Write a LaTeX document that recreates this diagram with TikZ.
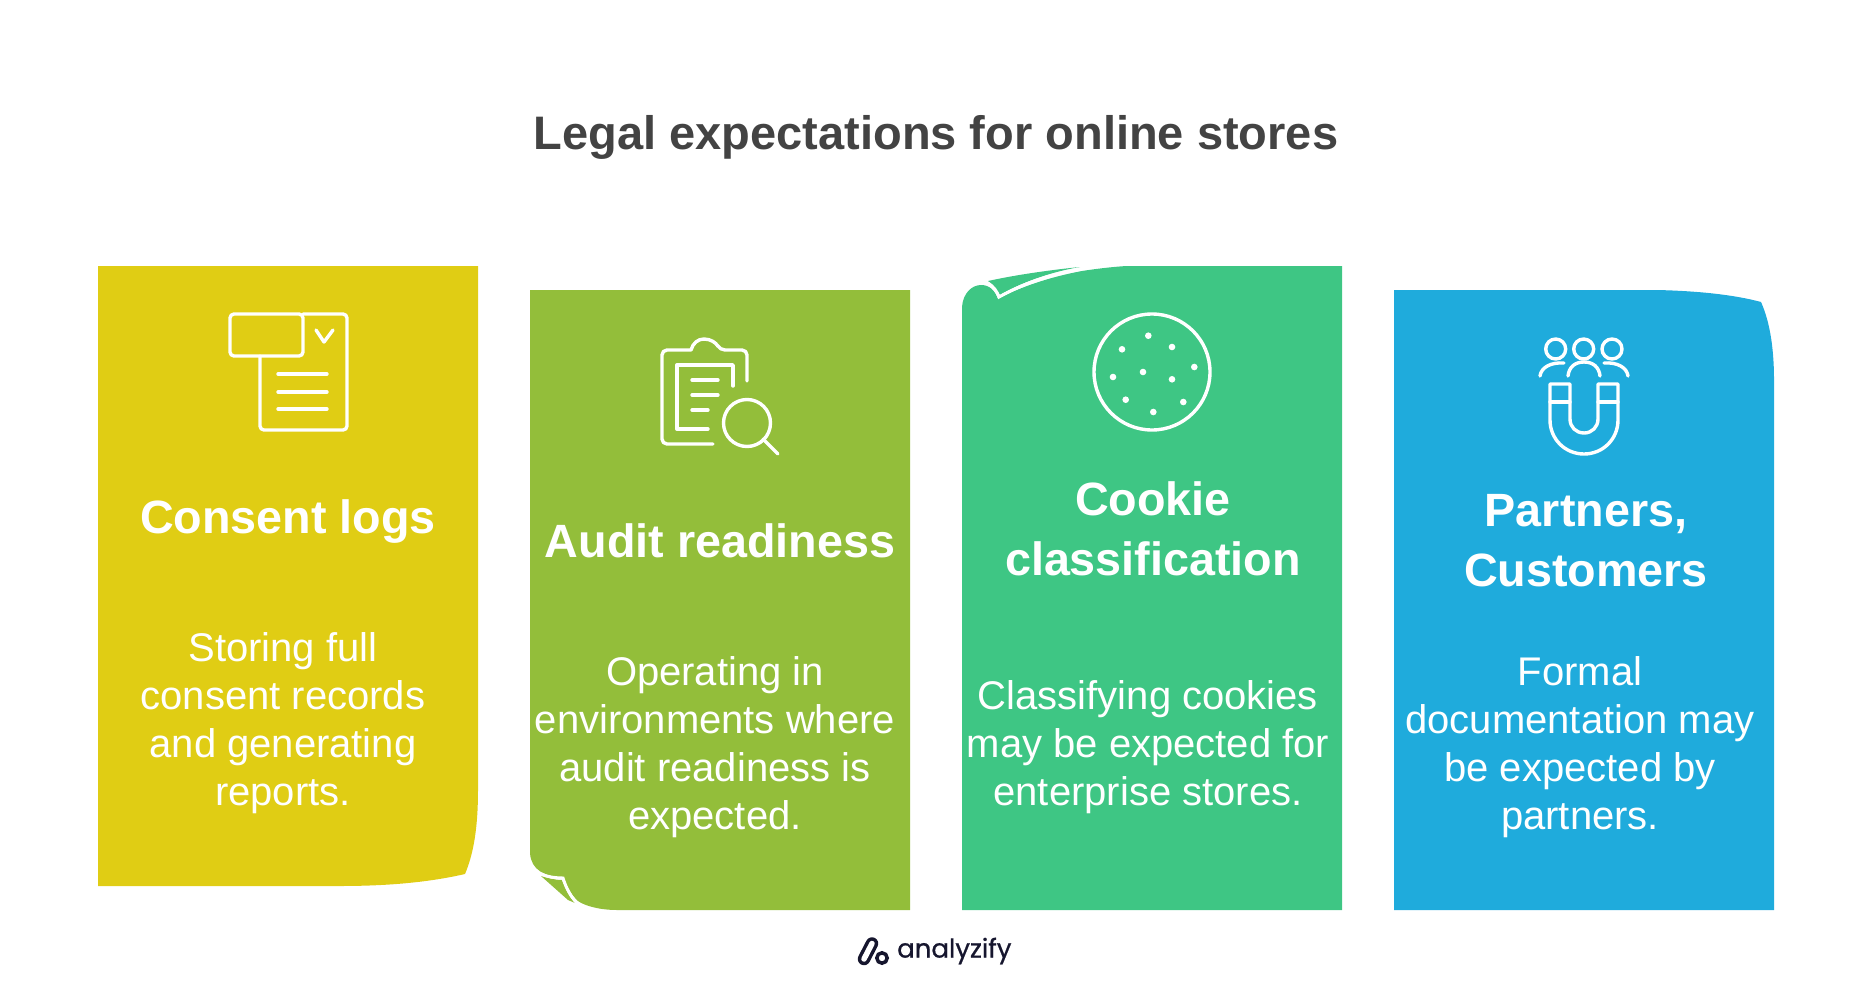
\documentclass[tikz,border=0pt]{standalone}
\usepackage{fontspec}
\usepackage{tikz}
\usetikzlibrary{positioning}
\setmainfont{Liberation Sans}
\newfontfamily\logofont[FakeBold=0.8]{Poppins}
\definecolor{cardyellow}{HTML}{E0CD14}
\definecolor{cardgreen}{HTML}{93BE3A}
\definecolor{cardteal}{HTML}{3EC684}
\definecolor{cardblue}{HTML}{1FABDC}
\definecolor{titlegrey}{HTML}{434343}
\definecolor{logoink}{HTML}{16162E}
\tikzset{
	cardhead/.style={text=white,align=center,inner sep=0pt,font=\fontsize{46.7}{60}\selectfont\bfseries},
	cardbody/.style={text=white,align=center,inner sep=0pt,font=\fontsize{40}{48}\selectfont},
	icon/.style={draw=white,line width=3.4pt,line cap=round,line join=round}
}

\begin{document}
\begin{tikzpicture}[x=1pt,y=-1pt]
	\useasboundingbox (0,0) rectangle (1872,996);
	\node [text=titlegrey,inner sep=0pt,font=\fontsize{47}{56}\selectfont\bfseries] at (936,137) (TITLE) {Legal expectations for online stores};
	% cards
	\fill [cardyellow] (98,266) -- (478,266) -- (478,790) .. controls (478,830) and (473,855) .. (465,874) .. controls (430,882) and (390,886) .. (340,886) -- (98,886) -- cycle;
	\fill [cardgreen] (530,290) -- (910,290) -- (910,910) -- (617,910) .. controls (600,910) and (585,906) .. (578,901) .. controls (571,895) and (567,886) .. (563.5,877) .. controls (545,877) and (531,870) .. (530,853) -- cycle;
	\fill [cardgreen] (541,876) .. controls (548,878) and (555,880) .. (562,880) .. controls (565,888) and (569,897) .. (575,903) -- (568,900) -- cycle;
	\draw [white,line width=3pt] (541,874) .. controls (548,877) and (555,878) .. (563,878) .. controls (566,888) and (571,897) .. (577,903);
	\fill [cardteal] (962,910) -- (962,307) .. controls (963,293) and (972,285) .. (981,285) .. controls (990,285) and (995,291) .. (998,299) .. controls (1020,287) and (1050,277) .. (1082,271) .. controls (1098,268.5) and (1112,267) .. (1126,266) -- (1342,266) -- (1342,910) -- cycle;
	\fill [cardteal] (988,281) .. controls (1015,275) and (1050,270) .. (1080,267) .. controls (1050,272) and (1020,283) .. (1000,295) .. controls (997,290) and (993,285) .. (988,281) -- cycle;
	\draw [white,line width=3pt] (988,283) .. controls (993,286) and (997,291) .. (999,297) .. controls (1020,285) and (1050,274) .. (1082,269);
	\fill [cardblue] (1394,290) -- (1657,290) .. controls (1700,291) and (1735,295) .. (1761,302) .. controls (1769,320) and (1774,345) .. (1774,380) -- (1774,910) -- (1394,910) -- cycle;
	% consent logs
	\draw [icon,rounded corners=4pt] (303,314) -- (347,314) -- (347,430) -- (260,430) -- (260,356);
	\draw [icon,rounded corners=4pt] (230,314) rectangle (303,356);
	\draw [icon] (316,330) -- (324,342) -- (333,330);
	\foreach \y in {374,392,409}
		\draw [icon] (278,\y) -- (327,\y);
	\node [cardhead] at (288,522) (H1) {Consent logs};
	\node [cardbody] at (283,723) (B1) {Storing full\\consent records\\and generating\\reports.};
	% audit readiness
	\draw [icon] (747,381) [rounded corners=5pt] -- (747,350) -- (720,350) [sharp corners] .. controls (716,343) and (711,339) .. (704,339) .. controls (698,339) and (693,343) .. (691,350) [rounded corners=5pt] -- (662,350) -- (662,444) -- (713,444);
	\draw [icon] (733,386) -- (733,365) -- (677,365) -- (677,429) -- (708,429);
	\draw [icon] (692,380) -- (718,380);
	\draw [icon] (692,395) -- (718,395);
	\draw [icon] (692,410) -- (708,410);
	\draw [icon] (747,423) circle (23.5pt);
	\draw [icon] (763,439) -- (778,454);
	\node [cardhead] at (720,541) (H2) {Audit readiness};
	\node [cardbody] at (715,747) (B2) {Operating in\\environments where\\audit readiness is\\expected.};
	% cookie classification
	\draw [icon] (1152,372) circle (58pt);
	\foreach \x/\y in {1148.3/335.7,1122/349.3,1172/347,1194.3/367,1143/372,1113/377,1172/379.3,1125.7/399.7,1183.3/402,1153.3/412}
		\fill [white] (\x,\y) circle (3.3pt);
	\node [cardhead] at (1153,529) (H3) {Cookie\\classification};
	\node [cardbody] at (1148,747) (B3) {Classifying cookies\\may be expected for\\enterprise stores.};
	% partners, customers
	\foreach \x in {1555.7,1583.7,1612}
		\draw [icon] (\x,349) circle (10pt);
	\draw [icon] (1568,376) .. controls (1569,367) and (1575,362) .. (1584,362) .. controls (1593,362) and (1599,367) .. (1600,376);
	\draw [icon] (1540,376) .. controls (1541,368) and (1550,362) .. (1564,363);
	\draw [icon] (1628,376) .. controls (1627,368) and (1618,362) .. (1604,363);
	\draw [icon] (1550,384) -- (1550,420) .. controls (1550,439) and (1565,454) .. (1584,454) .. controls (1603,454) and (1618,439) .. (1618,420) -- (1618,384) -- (1598,384) -- (1598,419) .. controls (1598,427) and (1592,433) .. (1584,433) .. controls (1576,433) and (1570,427) .. (1570,419) -- (1570,384) -- cycle;
	\draw [icon] (1550,402) -- (1570,402);
	\draw [icon] (1598,402) -- (1618,402);
	\node [cardhead] at (1586,541) (H4) {Partners,\\Customers};
	\node [cardbody] at (1580,747) (B4) {Formal\\documentation may\\be expected by\\partners.};
	% logo
	\coordinate (PILLTOP) at (872,943.5);
	\coordinate (PILLEND) at (864,959);
	\draw [logoink,line width=12.5pt,line cap=round] (PILLTOP) -- (PILLEND);
	\draw [white,line width=5.5pt,line cap=round] (PILLTOP) -- (PILLEND);
	\draw [logoink,line width=3.5pt,fill=white] (882,958) circle (5.2pt);
	\coordinate (LOGO) at (895,951);
	\node [right=0pt of LOGO,inner sep=2pt,text=logoink,font=\fontsize{26}{30}\selectfont\logofont] (ANALYZIFY) {analyzify};
\end{tikzpicture}
\end{document}
